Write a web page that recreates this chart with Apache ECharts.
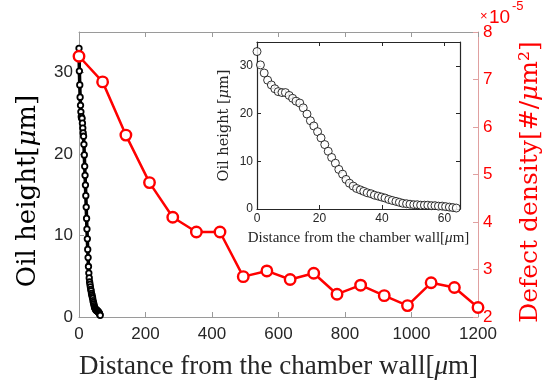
<!DOCTYPE html>
<html>
<head>
<meta charset="utf-8">
<script src="https://cdn.jsdelivr.net/npm/echarts@6/dist/echarts.min.js"></script>
<style>
  html, body { margin: 0; padding: 0; background: #fff; }
  #chart { width: 544px; height: 385px; }
</style>
</head>
<body>
<div id="chart"></div>
<script>
// Defect density along the wall distance (values in units of 1e-5 per um^2)
const defectDist = [0, 71, 141, 212, 282, 353, 424, 494, 565, 635, 706, 776, 847, 918, 988, 1059, 1129, 1200];
const defectDensity = [7.49, 6.95, 5.83, 4.83, 4.10, 3.79, 3.79, 2.85, 2.97, 2.79, 2.92, 2.48, 2.67, 2.45, 2.24, 2.72, 2.62, 2.20];

// Oil film height profile near the chamber wall (um)
const oilDist = [0, 1.1, 2.3, 3.4, 4.6, 5.7, 6.8, 8.0, 9.1, 10.3, 11.4, 12.5, 13.7, 14.8, 16.0, 17.1, 18.2, 19.4,
  20.5, 21.7, 22.8, 23.9, 25.1, 26.2, 27.4, 28.5, 29.6, 30.8, 31.9, 33.1, 34.2, 35.3, 36.5, 37.6, 38.8, 39.9,
  41.0, 42.2, 43.3, 44.5, 45.6, 46.7, 47.9, 49.0, 50.2, 51.3, 52.4, 53.6, 54.7, 55.9, 57.0, 58.1, 59.3, 60.4,
  61.6, 62.7, 63.8];
const oilHeight = [33.0, 30.2, 28.5, 27.0, 26.0, 25.2, 24.6, 24.4, 24.4, 23.8, 23.2, 22.6, 22.2, 21.2, 19.9, 18.5, 17.4, 16.2,
  14.9, 13.5, 12.1, 10.8, 9.6, 8.3, 7.3, 6.2, 5.4, 4.8, 4.3, 4.0, 3.7, 3.4, 3.2, 2.9, 2.7, 2.5,
  2.3, 2.0, 1.8, 1.6, 1.4, 1.2, 1.1, 1.0, 0.9, 0.9, 0.8, 0.8, 0.8, 0.7, 0.7, 0.6, 0.6, 0.5,
  0.4, 0.3, 0.2];

const SERIF = '"Liberation Serif", "Times New Roman", serif';
const WIDE_SERIF = '"DejaVu Serif", serif';
const SANS = '"Liberation Sans", Arial, sans-serif';
const RED = '#ff0000';
const DARK = '#262626';
const GREY_AXIS = '#9a9a9a';

const pair = (xs, ys) => xs.map((x, i) => [x, ys[i]]);

function muRich(family, size, color) {
  return { m: { fontFamily: family, fontStyle: 'italic', fontSize: size, color: color, fill: color } };
}

function titleStyle(family, size, color) {
  return { fontFamily: family, fontSize: size, color: color, rich: muRich(family, size, color) };
}

// Vertical axis title drawn as free text, reading bottom to top
function verticalTitle(text, cx, cy, family, size, color) {
  return {
    type: 'text', x: cx, y: cy, rotation: Math.PI / 2,
    style: {
      text: text, fontFamily: family, fontSize: size, fill: color,
      align: 'center', verticalAlign: 'middle',
      rich: muRich(family, size, color)
    }
  };
}

const noComma = v => String(v);

const chart = echarts.init(document.getElementById('chart'), null, { renderer: 'canvas' });

const option = {
  backgroundColor: '#ffffff',
  animation: false,
  grid: [
    { left: 79, top: 32, width: 399, height: 288 },
    { left: 257, top: 42, width: 203, height: 167 }
  ],
  xAxis: [
    {
      gridIndex: 0, type: 'value', position: 'bottom', min: 0, max: 1200, interval: 200,
      axisLine: { onZero: false, lineStyle: { color: GREY_AXIS, width: 1 } },
      axisTick: { inside: true, length: 5, lineStyle: { color: GREY_AXIS } },
      axisLabel: { fontFamily: SANS, fontSize: 17, color: DARK, margin: 9, formatter: noComma },
      splitLine: { show: false },
      name: 'Distance from the chamber wall[{m|μ}m]',
      nameLocation: 'middle', nameGap: 36,
      nameTextStyle: titleStyle(SERIF, 27, DARK)
    },
    {
      gridIndex: 0, type: 'value', position: 'top', min: 0, max: 1200, interval: 200,
      axisLine: { onZero: false, lineStyle: { color: GREY_AXIS, width: 1 } },
      axisTick: { inside: true, length: 5, lineStyle: { color: GREY_AXIS } },
      axisLabel: { show: false },
      splitLine: { show: false }
    },
    {
      gridIndex: 1, type: 'value', position: 'bottom', min: 0, max: 65, interval: 20,
      axisLine: { onZero: false, lineStyle: { color: DARK, width: 1.2 } },
      axisTick: { inside: true, length: 4, lineStyle: { color: DARK } },
      axisLabel: { fontFamily: SANS, fontSize: 12, color: DARK, margin: 4, showMaxLabel: false },
      splitLine: { show: false },
      name: 'Distance from the chamber wall[{m|μ}m]',
      nameLocation: 'middle', nameGap: 22,
      nameTextStyle: titleStyle(SERIF, 15, DARK)
    },
    {
      gridIndex: 1, type: 'value', position: 'top', min: 0, max: 65, interval: 20,
      axisLine: { onZero: false, lineStyle: { color: DARK, width: 1.2 } },
      axisTick: { inside: true, length: 4, lineStyle: { color: DARK } },
      axisLabel: { show: false },
      splitLine: { show: false }
    }
  ],
  yAxis: [
    {
      gridIndex: 0, type: 'value', position: 'left', min: 0, max: 35, interval: 10,
      axisLine: { show: true, onZero: false, lineStyle: { color: GREY_AXIS, width: 1 } },
      axisTick: { show: true, inside: true, length: 5, lineStyle: { color: GREY_AXIS } },
      axisLabel: { fontFamily: SANS, fontSize: 17, color: DARK, margin: 6, showMaxLabel: false },
      splitLine: { show: false }
    },
    {
      gridIndex: 0, type: 'value', position: 'right', min: 2, max: 8, interval: 1,
      axisLine: { show: true, onZero: false, lineStyle: { color: '#e0a0a0', width: 1 } },
      axisTick: { show: true, inside: true, length: 5, lineStyle: { color: '#e0a0a0' } },
      axisLabel: { fontFamily: SANS, fontSize: 17, color: RED, margin: 5 },
      splitLine: { show: false }
    },
    {
      gridIndex: 1, type: 'value', position: 'left', min: 0, max: 35, interval: 10,
      axisLine: { show: true, onZero: false, lineStyle: { color: DARK, width: 1.2 } },
      axisTick: { show: true, inside: true, length: 4, lineStyle: { color: DARK } },
      axisLabel: { fontFamily: SANS, fontSize: 12, color: DARK, margin: 4, showMaxLabel: false },
      splitLine: { show: false },
      name: 'Oil height [{m|μ}m]',
      nameLocation: 'middle', nameGap: 25, nameRotate: 90,
      nameTextStyle: titleStyle(WIDE_SERIF, 14.5, DARK)
    },
    {
      gridIndex: 1, type: 'value', position: 'right', min: 0, max: 35, interval: 10,
      axisLine: { show: true, onZero: false, lineStyle: { color: DARK, width: 1.2 } },
      axisTick: { show: true, inside: true, length: 4, lineStyle: { color: DARK } },
      axisLabel: { show: false },
      splitLine: { show: false }
    }
  ],
  graphic: [
    verticalTitle('Oil height[{m|μ}m]', 28, 191, WIDE_SERIF, 26, '#000'),
    verticalTitle('Defect density[#/{m|μ}m²]', 530, 182, WIDE_SERIF, 25, RED),
    { type: 'text', x: 480, y: 16, style: { text: '×', fontFamily: SANS, fontSize: 13, fill: RED, verticalAlign: 'middle' } },
    { type: 'text', x: 489, y: 18, style: { text: '10', fontFamily: SANS, fontSize: 19, fill: RED, verticalAlign: 'middle' } },
    { type: 'text', x: 512, y: 6, style: { text: '-5', fontFamily: SANS, fontSize: 13, fill: RED, verticalAlign: 'middle' } }
  ],
  series: [
    {
      type: 'line', xAxisIndex: 0, yAxisIndex: 0,
      data: pair(oilDist, oilHeight),
      symbol: 'circle', symbolSize: 5.5, showSymbol: true,
      lineStyle: { color: '#000', width: 3.5 },
      itemStyle: { color: '#fff', borderColor: '#000', borderWidth: 1.8 },
      z: 2
    },
    {
      type: 'line', xAxisIndex: 0, yAxisIndex: 1,
      data: pair(defectDist, defectDensity),
      symbol: 'circle', symbolSize: 10.5, showSymbol: true,
      lineStyle: { color: RED, width: 2.5 },
      itemStyle: { color: '#fff', borderColor: RED, borderWidth: 2.4 },
      z: 3
    },
    {
      type: 'scatter', xAxisIndex: 2, yAxisIndex: 2,
      data: pair(oilDist, oilHeight),
      symbol: 'circle', symbolSize: 8,
      itemStyle: { color: '#fff', borderColor: '#000', borderWidth: 1 },
      z: 4
    }
  ]
};

chart.setOption(option);
</script>
</body>
</html>
